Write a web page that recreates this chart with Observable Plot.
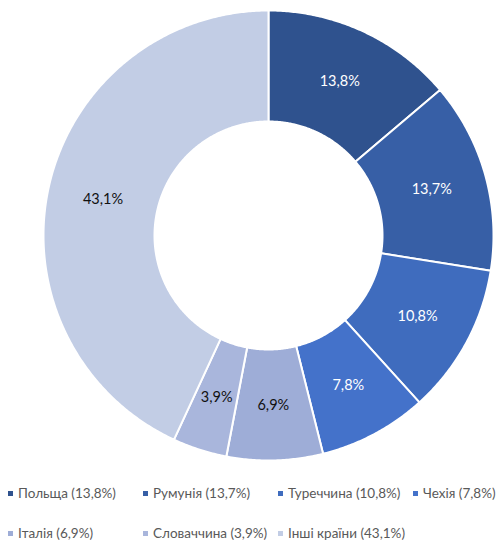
<!DOCTYPE html>
<html><head><meta charset="utf-8">
<script src="https://cdn.jsdelivr.net/npm/d3@7"></script>
<script src="https://cdn.jsdelivr.net/npm/@observablehq/plot@0.6"></script>
<style>
body{margin:0;background:#fff;font-family:Lato,"Open Sans",sans-serif;}
#legend{display:grid;grid-template-columns:repeat(4,135px);row-gap:22px;padding:14px 0 0 8px;font-size:13.5px;color:#595959;}
#legend .item{display:flex;align-items:center;height:18px;line-height:18px;white-space:nowrap;}
#legend .sw{width:5px;height:5px;margin-right:5px;flex:none;}
</style>
</head><body><div id="chart"></div><div id="legend"></div>
<script>
const countries = ["Польща","Румунія","Туреччина","Чехія","Італія","Словаччина","Інші країни"];
const shares = [13.8,13.7,10.8,7.8,6.9,3.9,43.1];
const colors = ["#2F528E","#375FA6","#3F6CBE","#4472CA","#9EADD7","#A9B6DC","#C2CDE5"];
const darkSlices = ["Польща","Румунія","Туреччина","Чехія"];

const fmt = v => String(v).replace(".", ",") + "%";
const data = countries.map((name, i) => ({name, share: shares[i]}));
const arcs = d3.pie().sort(null).value(d => d.share)(data);
const R = 1, r0 = 114 / 225;

const points = [];
for (const a of arcs) {
  const n = Math.max(4, Math.ceil((a.endAngle - a.startAngle) / 0.008));
  const ring = [];
  for (let k = 0; k <= n; k++) {
    const t = a.startAngle + (a.endAngle - a.startAngle) * k / n;
    ring.push({x: R * Math.sin(t), y: R * Math.cos(t)});
  }
  for (let k = n; k >= 0; k--) {
    const t = a.startAngle + (a.endAngle - a.startAngle) * k / n;
    ring.push({x: r0 * Math.sin(t), y: r0 * Math.cos(t)});
  }
  ring.push(ring[0]);
  for (const p of ring) points.push({...p, name: a.data.name});
}
const labels = arcs.map(a => {
  const m = (a.startAngle + a.endAngle) / 2, rm = (R + r0) / 2;
  return {x: rm * Math.sin(m), y: rm * Math.cos(m), name: a.data.name, text: fmt(a.data.share)};
});

const chart = Plot.plot({
  width: 496, height: 470,
  marginLeft: 43, marginRight: 3, marginTop: 10, marginBottom: 10,
  style: {fontFamily: "Lato, 'Open Sans', sans-serif"},
  x: {domain: [-1, 1], axis: null},
  y: {domain: [-1, 1], axis: null},
  color: {domain: countries, range: colors},
  marks: [
    Plot.line(points, {x: "x", y: "y", z: "name", fill: "name", stroke: "white", strokeWidth: 2, curve: "linear"}),
    Plot.text(labels.filter(d => darkSlices.includes(d.name)), {x: "x", y: "y", text: "text", fill: "white", fontSize: 14.5}),
    Plot.text(labels.filter(d => !darkSlices.includes(d.name)), {x: "x", y: "y", text: "text", fill: "#111", fontSize: 14.5})
  ]
});
document.getElementById("chart").append(chart);

const legend = document.getElementById("legend");
countries.forEach((c, i) => {
  const it = document.createElement("div"); it.className = "item";
  const sw = document.createElement("span"); sw.className = "sw"; sw.style.background = colors[i];
  it.append(sw, document.createTextNode(`${c} (${fmt(shares[i])})`));
  legend.append(it);
});
</script></body></html>
